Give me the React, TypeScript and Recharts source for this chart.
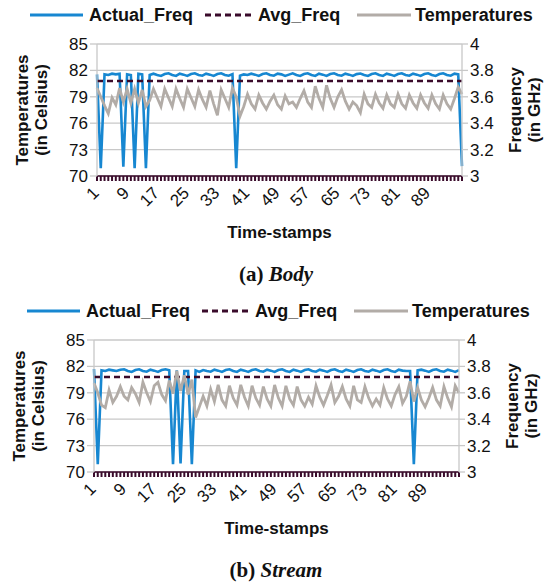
import { LineChart, Line, XAxis, YAxis, CartesianGrid } from "recharts"

// time-stamps 1..98 (category index)
const timeStamps = Array.from({ length: 98 }, (_, i) => i + 1)
const xLabelTicks = [1, 9, 17, 25, 33, 41, 49, 57, 65, 73, 81, 89]
const tempTicks = [70, 73, 76, 79, 82, 85]
const freqTicks = [3, 3.2, 3.4, 3.6, 3.8, 4]

const bodyAvgFreq = 3.72
const streamAvgFreq = 3.72

const bodyActualFreq = [
  3.77, 3.06, 3.77, 3.765, 3.775, 3.77, 3.775, 3.07, 3.77, 3.765,
  3.06, 3.775, 3.77, 3.06, 3.765, 3.775, 3.765, 3.758, 3.772, 3.778,
  3.765, 3.758, 3.775, 3.768, 3.758, 3.772, 3.778, 3.765, 3.76, 3.775,
  3.768, 3.758, 3.772, 3.778, 3.765, 3.76, 3.772, 3.06, 3.76, 3.77,
  3.765, 3.775, 3.768, 3.758, 3.772, 3.778, 3.765, 3.76, 3.775, 3.77,
  3.758, 3.768, 3.778, 3.765, 3.758, 3.772, 3.778, 3.765, 3.758, 3.775,
  3.768, 3.758, 3.772, 3.778, 3.765, 3.76, 3.775, 3.768, 3.758, 3.772,
  3.776, 3.765, 3.758, 3.772, 3.778, 3.765, 3.758, 3.775, 3.768, 3.758,
  3.772, 3.778, 3.765, 3.76, 3.775, 3.768, 3.758, 3.772, 3.778, 3.765,
  3.758, 3.772, 3.778, 3.765, 3.76, 3.775, 3.77, 3.075,
]

const bodyTemps = [
  80.0, 79.0, 78.0, 77.1, 78.9, 78.1, 80.0, 78.4, 79.9, 78.3,
  79.9, 78.3, 79.8, 77.9, 78.6, 79.9, 78.9, 77.9, 79.9, 78.9,
  77.9, 79.9, 78.8, 77.8, 79.9, 78.9, 77.9, 79.8, 78.7, 77.8,
  79.7, 78.2, 76.9, 79.8, 78.8, 77.8, 80.0, 79.0, 76.8, 77.9,
  79.3, 78.2, 77.6, 79.2, 78.3, 77.6, 78.5, 79.2, 78.1, 77.6,
  79.1, 78.2, 78.4, 77.8, 78.8, 79.7, 78.4, 77.8, 80.2, 78.8,
  77.8, 80.3, 78.8, 77.8, 79.0, 79.8, 78.5, 77.6, 78.4, 78.0,
  77.2, 79.3, 78.2, 77.8, 79.3, 78.3, 77.7, 79.2, 78.2, 77.8,
  79.3, 78.2, 77.7, 79.2, 78.3, 77.7, 79.2, 78.3, 77.7, 79.2,
  78.2, 77.6, 79.2, 78.2, 77.6, 78.8, 80.1, 79.3,
]

const streamActualFreq = [
  3.78, 3.06, 3.77, 3.765, 3.775, 3.77, 3.765, 3.775, 3.778, 3.765,
  3.758, 3.772, 3.778, 3.765, 3.76, 3.775, 3.768, 3.758, 3.772, 3.778,
  3.77, 3.06, 3.77, 3.065, 3.765, 3.765, 3.06, 3.77, 3.758, 3.772,
  3.765, 3.76, 3.775, 3.768, 3.758, 3.772, 3.778, 3.765, 3.758, 3.775,
  3.768, 3.758, 3.772, 3.778, 3.765, 3.76, 3.775, 3.768, 3.758, 3.772,
  3.778, 3.765, 3.758, 3.775, 3.768, 3.758, 3.772, 3.778, 3.765, 3.76,
  3.775, 3.768, 3.758, 3.772, 3.778, 3.765, 3.758, 3.775, 3.768, 3.758,
  3.772, 3.778, 3.765, 3.76, 3.775, 3.768, 3.758, 3.772, 3.778, 3.765,
  3.758, 3.775, 3.768, 3.765, 3.765, 3.06, 3.77, 3.775, 3.768, 3.758,
  3.772, 3.778, 3.765, 3.76, 3.775, 3.768, 3.758, 3.772,
]

const streamTemps = [
  80.1, 79.0, 77.6, 77.3, 79.3, 77.9, 78.6, 79.7, 78.6, 78.2,
  79.6, 78.9, 77.9, 80.2, 79.0, 78.0, 79.8, 80.2, 78.8, 78.1,
  80.4, 78.9, 81.5, 79.2, 81.0, 78.8, 80.5, 76.2, 77.4, 78.6,
  77.5, 79.4, 78.0, 79.9, 78.2, 77.5, 79.8, 78.4, 77.6, 79.9,
  78.5, 77.5, 79.8, 78.4, 77.6, 79.7, 78.3, 77.5, 79.9, 78.4,
  77.5, 79.8, 78.3, 77.6, 79.7, 78.2, 77.5, 78.5, 77.7, 79.8,
  78.5, 77.6, 78.7, 79.9, 77.9, 78.6, 79.7, 78.3, 77.5, 79.8,
  78.2, 77.9, 79.7, 78.4, 77.5, 78.3, 77.6, 79.6, 78.3, 77.5,
  78.8, 79.7, 77.8, 78.6, 80.3, 78.0, 79.6, 78.2, 77.4, 78.4,
  79.6, 78.2, 77.5, 79.7, 78.4, 77.4, 79.8, 79.0,
]

const BLUE = "#1787d1"
const MAROON = "#3a0b2b"
const GRAY = "#b2aca7"
const GRID = "#c8c8c8"
const FONT = "'Liberation Sans', Arial, sans-serif"

const legendItems = [
  { name: "Actual_Freq", color: BLUE, dash: undefined, x1: 30, x2: 83, tx: 89 },
  { name: "Avg_Freq", color: MAROON, dash: "6 4", x1: 205, x2: 255, tx: 258 },
  { name: "Temperatures", color: GRAY, dash: undefined, x1: 357, x2: 411, tx: 415 },
]

const XTick = (props: any) => {
  const { x, y, payload } = props
  if (!xLabelTicks.includes(payload.value)) return <g />
  const ax = x + 3
  const ay = y + 11
  return (
    <text x={ax} y={ay} transform={`rotate(-45, ${ax}, ${ay})`} textAnchor="end"
      fontSize={17} fontFamily={FONT} fill="#111">
      {payload.value}
    </text>
  )
}

type PanelProps = {
  top: number
  left: number
  actual: number[]
  avg: number
  temps: number[]
  tag: string
  name: string
}

const Panel = ({ top, left, actual, avg, temps, tag, name }: PanelProps) => {
  const data = timeStamps.map((t, i) => ({ t, actual: actual[i], avg, temp: temps[i] }))
  return (
    <div style={{ position: "absolute", top, left, width: 552, height: 290 }}>
      <svg width={552} height={30} style={{ position: "absolute", left: 0, top: 0 }}>
        {legendItems.map((it) => (
          <g key={it.name}>
            <line x1={it.x1} x2={it.x2} y1={15} y2={15} stroke={it.color} strokeWidth={3}
              strokeDasharray={it.dash} />
            <text x={it.tx} y={21} fontSize={18} fontWeight="bold" fontFamily={FONT} fill="#111">
              {it.name}
            </text>
          </g>
        ))}
      </svg>
      <div style={{ position: "absolute", left: 0, top: 0 }}>
        <LineChart width={552} height={250} data={data}
          margin={{ top: 44, right: 0, left: 0, bottom: 0 }}>
          <CartesianGrid yAxisId="temp" vertical={false} stroke={GRID} strokeWidth={1.3} />
          <XAxis type="number" dataKey="t" domain={[1, 98]} ticks={timeStamps} interval={0}
            height={74} tick={<XTick />} tickSize={5} tickMargin={2}
            axisLine={{ stroke: MAROON, strokeWidth: 1.5 }}
            tickLine={{ stroke: MAROON, strokeWidth: 2 }}
            label={(p: any) => {
              const vb = p.viewBox
              return (
                <text x={vb.x + vb.width / 2} y={vb.y + 62} textAnchor="middle" fontSize={17}
                  fontWeight="bold" fontFamily={FONT} fill="#111">Time-stamps</text>
              )
            }} />
          <YAxis yAxisId="temp" orientation="left" domain={[70, 85]} ticks={tempTicks}
            width={97} tickSize={7} tickMargin={2}
            tick={{ fontSize: 17, fill: "#111", fontFamily: FONT }}
            axisLine={{ stroke: GRID, strokeWidth: 1.3 }} tickLine={{ stroke: GRID, strokeWidth: 1.3 }}
            label={() => (
              <g fontSize={17} fontWeight="bold" fontFamily={FONT} fill="#111" textAnchor="middle">
                <text x={28} y={110} transform="rotate(-90, 28, 110)">Temperatures</text>
                <text x={47} y={110} transform="rotate(-90, 47, 110)">(in Celsius)</text>
              </g>
            )} />
          <YAxis yAxisId="freq" orientation="right" domain={[3, 4]} ticks={freqTicks}
            width={90} tickSize={6} tickMargin={2}
            tick={{ fontSize: 17, fill: "#111", fontFamily: FONT }}
            axisLine={{ stroke: GRID, strokeWidth: 1.3 }} tickLine={{ stroke: GRID, strokeWidth: 1.3 }}
            label={() => (
              <g fontSize={17} fontWeight="bold" fontFamily={FONT} fill="#111" textAnchor="middle">
                <text x={521} y={110} transform="rotate(-90, 521, 110)">Frequency</text>
                <text x={540} y={110} transform="rotate(-90, 540, 110)">(in GHz)</text>
              </g>
            )} />
          <Line yAxisId="freq" dataKey="actual" stroke={BLUE} strokeWidth={2.6} dot={false}
            isAnimationActive={false} />
          <Line yAxisId="freq" dataKey="avg" stroke={MAROON} strokeWidth={2.6} strokeDasharray="6 4"
            dot={false} isAnimationActive={false} />
          <Line yAxisId="temp" dataKey="temp" stroke={GRAY} strokeWidth={2.8} dot={false}
            isAnimationActive={false} />
        </LineChart>
      </div>
      <div style={{
        position: "absolute", top: 262, left: 0, width: 552 - 2 * left, textAlign: "center",
        fontFamily: "'Liberation Serif', 'Times New Roman', serif", fontSize: 21, fontWeight: "bold",
        color: "#111",
      }}>
        ({tag}) <i>{name}</i>
      </div>
    </div>
  )
}

export default function App() {
  return (
    <div style={{ position: "absolute", left: 0, top: 0, width: 552, height: 582, background: "#fff" }}>
      <Panel top={0} left={0} actual={bodyActualFreq} avg={bodyAvgFreq} temps={bodyTemps}
        tag="a" name="Body" />
      <Panel top={296} left={-3.5} actual={streamActualFreq} avg={streamAvgFreq} temps={streamTemps}
        tag="b" name="Stream" />
    </div>
  )
}
